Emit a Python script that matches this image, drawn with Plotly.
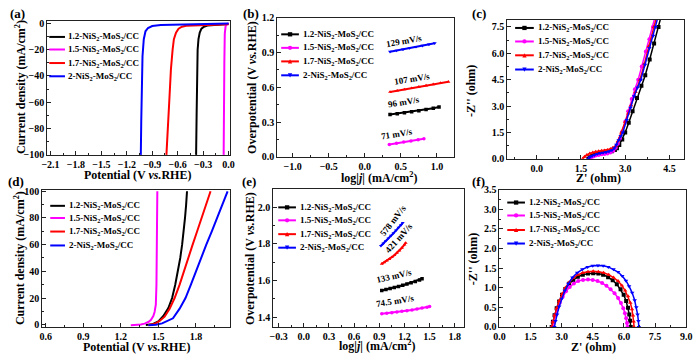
import plotly.graph_objects as go

FONT = "Liberation Serif"
W, H = 700, 361

NAMES = ["1.2-NiS<sub>2</sub>-MoS<sub>2</sub>/CC", "1.5-NiS<sub>2</sub>-MoS<sub>2</sub>/CC",
         "1.7-NiS<sub>2</sub>-MoS<sub>2</sub>/CC", "2-NiS<sub>2</sub>-MoS<sub>2</sub>/CC"]
COLORS = ["#000000", "#FF00FF", "#FF0000", "#0000FF"]
SYMBOLS = ["square", "circle", "triangle-up", "triangle-down"]

# ---------------- (a) HER LSV ----------------
a_x_12 = [0.0, -0.1, -0.2, -0.25, -0.29, -0.32, -0.34, -0.355, -0.365, -0.372, -0.377, -0.383]
a_y_12 = [-0.5, -0.8, -1.2, -1.6, -2.5, -4, -7, -12, -20, -40, -70, -100]
a_x_15 = [0.0, -0.02, -0.035, -0.045, -0.05, -0.055, -0.058]
a_y_15 = [0, -0.5, -2, -8, -30, -70, -100]
a_x_17 = [0.0, -0.2, -0.4, -0.5, -0.55, -0.59, -0.62, -0.645, -0.66, -0.68, -0.70, -0.715, -0.733]
a_y_17 = [-0.6, -0.9, -1.3, -1.8, -2.5, -4, -7, -12, -20, -35, -60, -80, -100]
a_x_2 = [0.0, -0.3, -0.6, -0.8, -0.9, -0.95, -0.98, -1.0, -1.015, -1.025, -1.03, -1.035]
a_y_2 = [0, -0.3, -0.7, -1.2, -2, -3.5, -6, -12, -25, -50, -75, -100]

# ---------------- (b) HER Tafel ----------------
b_x_12 = [0.35, 0.45, 0.55, 0.65, 0.75, 0.85, 0.95, 1.03]
b_y_12 = [0.364, 0.372, 0.380, 0.389, 0.398, 0.407, 0.418, 0.430]
b_x_15 = [0.34, 0.44, 0.54, 0.64, 0.74, 0.82]
b_y_15 = [0.107, 0.117, 0.127, 0.137, 0.147, 0.155]
b_x_17 = [0.35, 0.45, 0.55, 0.65, 0.75, 0.85, 0.95, 1.05, 1.16]
b_y_17 = [0.559, 0.570, 0.581, 0.592, 0.603, 0.614, 0.625, 0.636, 0.647]
b_x_2 = [0.35, 0.44, 0.53, 0.62, 0.71, 0.80, 0.89, 0.97]
b_y_2 = [0.906, 0.916, 0.926, 0.937, 0.948, 0.958, 0.969, 0.979]
b_rates = ["96 mV/s", "71 mV/s", "107 mV/s", "129 mV/s"]

# ---------------- (c) HER Nyquist ----------------
c_x_12 = [1.75, 1.80, 1.88, 1.96, 2.05, 2.15, 2.25, 2.35, 2.45, 2.55, 2.65, 2.72, 2.80, 2.90, 3.00, 3.12, 3.25, 3.40, 3.55, 3.68, 3.83, 3.98, 4.13, 4.25]
c_y_12 = [0.00, 0.08, 0.16, 0.22, 0.27, 0.31, 0.34, 0.36, 0.38, 0.42, 0.50, 0.60, 0.78, 1.10, 1.50, 2.05, 2.70, 3.45, 4.15, 4.75, 5.65, 6.55, 7.50, 8.30]
c_x_15 = [1.80, 1.85, 1.92, 2.00, 2.10, 2.20, 2.30, 2.40, 2.50, 2.60, 2.68, 2.75, 2.82, 2.90, 3.00, 3.10, 3.22, 3.33, 3.44, 3.56, 3.70, 3.82, 3.94, 4.05]
c_y_15 = [0.00, 0.07, 0.13, 0.18, 0.22, 0.25, 0.27, 0.30, 0.35, 0.45, 0.62, 0.85, 1.15, 1.55, 2.10, 2.70, 3.40, 3.95, 4.50, 5.25, 6.10, 6.80, 7.50, 8.30]
c_x_17 = [1.56, 1.62, 1.70, 1.80, 1.90, 2.00, 2.10, 2.20, 2.30, 2.40, 2.50, 2.58, 2.67, 2.75, 2.87, 3.00, 3.10, 3.20, 3.35, 3.50, 3.65, 3.80, 3.97, 4.10]
c_y_17 = [0.00, 0.12, 0.22, 0.30, 0.36, 0.40, 0.43, 0.45, 0.47, 0.50, 0.55, 0.62, 0.71, 1.00, 1.50, 2.10, 2.58, 3.05, 3.80, 4.50, 5.40, 6.40, 7.50, 8.30]
c_x_2 = [1.75, 1.80, 1.88, 1.96, 2.05, 2.15, 2.25, 2.35, 2.45, 2.55, 2.63, 2.70, 2.78, 2.85, 2.92, 3.05, 3.18, 3.30, 3.42, 3.53, 3.67, 3.82, 3.95, 4.03, 4.15]
c_y_2 = [0.00, 0.08, 0.16, 0.22, 0.27, 0.31, 0.34, 0.37, 0.41, 0.48, 0.60, 0.80, 1.05, 1.30, 1.50, 2.20, 2.90, 3.55, 4.05, 4.50, 5.35, 6.30, 7.00, 7.50, 8.30]

# ---------------- (d) OER LSV ----------------
d_x_12 = [1.40, 1.45, 1.50, 1.54, 1.58, 1.61, 1.635, 1.656, 1.675, 1.69, 1.703, 1.713, 1.722, 1.729]
d_y_12 = [-0.3, 0.3, 2.5, 6.5, 12.5, 20, 30, 40, 50, 60, 70, 80, 90, 100]
d_x_15 = [1.28, 1.32, 1.36, 1.39, 1.42, 1.44, 1.46, 1.47, 1.48, 1.485, 1.488, 1.49, 1.492]
d_y_15 = [-0.5, -0.3, 0.2, 0.8, 2.0, 3.5, 6.5, 9.5, 15, 30, 55, 80, 100]
d_x_17 = [1.42, 1.47, 1.51, 1.55, 1.59, 1.63, 1.67, 1.703, 1.74, 1.774, 1.81, 1.844, 1.88, 1.917]
d_y_17 = [-0.3, 0.5, 2.8, 6.0, 12, 20, 30, 40, 50, 60, 70, 80, 90, 100]
d_x_2 = [1.42, 1.48, 1.53, 1.57, 1.617, 1.67, 1.717, 1.76, 1.80, 1.84, 1.883, 1.927, 1.97, 2.012, 2.053]
d_y_2 = [-0.5, 0.0, 1.0, 2.5, 4.8, 12, 20, 30, 40, 50, 60, 70, 80, 90, 100]

# ---------------- (e) OER Tafel ----------------
e_x_12 = [0.93, 0.98, 1.03, 1.08, 1.13, 1.18, 1.23, 1.28, 1.33, 1.38, 1.41]
e_y_12 = [1.546, 1.551, 1.556, 1.562, 1.568, 1.574, 1.581, 1.588, 1.595, 1.603, 1.610]
e_x_15 = [0.93, 0.99, 1.05, 1.11, 1.17, 1.23, 1.29, 1.35, 1.41, 1.47, 1.50]
e_y_15 = [1.419, 1.422, 1.425, 1.428, 1.432, 1.436, 1.440, 1.445, 1.450, 1.455, 1.459]
e_x_17 = [0.93, 0.96, 0.99, 1.02, 1.05, 1.08, 1.11, 1.14, 1.17, 1.20, 1.215]
e_y_17 = [1.691, 1.699, 1.708, 1.717, 1.727, 1.738, 1.750, 1.763, 1.778, 1.795, 1.805]
e_x_2 = [0.92, 0.95, 0.98, 1.01, 1.04, 1.07, 1.10, 1.13, 1.16, 1.18]
e_y_2 = [1.789, 1.802, 1.816, 1.830, 1.844, 1.858, 1.873, 1.888, 1.903, 1.914]
e_rates = ["133 mV/s", "74.5 mV/s", "421 mV/s", "578 mV/s"]

# ---------------- (f) OER Nyquist ----------------
f_x_12 = [2.52, 2.58, 2.66, 2.76, 2.88, 3.02, 3.18, 3.36, 3.56, 3.78, 4.02, 4.27, 4.52, 4.77, 5.00, 5.24, 5.46, 5.66, 5.84, 5.99, 6.11, 6.20, 6.26, 6.30, 6.33]
f_y_12 = [0.00, 0.13, 0.30, 0.48, 0.65, 0.82, 0.97, 1.10, 1.20, 1.28, 1.33, 1.36, 1.37, 1.36, 1.33, 1.27, 1.19, 1.09, 0.96, 0.82, 0.66, 0.49, 0.32, 0.16, 0.00]
f_x_15 = [2.55, 2.61, 2.69, 2.79, 2.91, 3.05, 3.21, 3.39, 3.59, 3.80, 4.03, 4.27, 4.50, 4.73, 4.95, 5.16, 5.36, 5.55, 5.72, 5.86, 5.97, 6.05, 6.11, 6.15, 6.17]
f_y_15 = [0.00, 0.13, 0.29, 0.46, 0.62, 0.77, 0.91, 1.02, 1.11, 1.17, 1.20, 1.21, 1.20, 1.17, 1.12, 1.05, 0.96, 0.86, 0.74, 0.61, 0.48, 0.35, 0.22, 0.10, 0.00]
f_x_17 = [2.52, 2.58, 2.66, 2.76, 2.88, 3.02, 3.18, 3.36, 3.56, 3.78, 4.02, 4.27, 4.52, 4.77, 5.02, 5.27, 5.50, 5.72, 5.90, 6.06, 6.20, 6.31, 6.39, 6.44, 6.47, 6.49]
f_y_17 = [0.00, 0.13, 0.30, 0.48, 0.66, 0.84, 1.00, 1.14, 1.25, 1.33, 1.38, 1.41, 1.42, 1.41, 1.38, 1.33, 1.26, 1.17, 1.06, 0.93, 0.78, 0.62, 0.45, 0.29, 0.14, 0.00]
f_x_2 = [2.65, 2.70, 2.78, 2.88, 3.00, 3.15, 3.32, 3.52, 3.75, 4.00, 4.25, 4.50, 4.75, 5.00, 5.25, 5.50, 5.72, 5.92, 6.10, 6.25, 6.40, 6.52, 6.60, 6.66, 6.70, 6.72]
f_y_2 = [0.00, 0.15, 0.32, 0.52, 0.72, 0.92, 1.10, 1.26, 1.38, 1.47, 1.53, 1.56, 1.57, 1.56, 1.53, 1.47, 1.40, 1.30, 1.18, 1.04, 0.87, 0.68, 0.50, 0.32, 0.15, 0.00]

# ---------------- figure ----------------
fig = go.Figure()

def fx(px):
    return px / W

def fy(py):
    return 1 - py / H

# panel boxes in pixels: (left, right, top, bottom)
BOX = {
    1: (42, 227.5, 15, 154),
    2: (276, 456, 12, 156),
    3: (510, 690, 14, 158),
    4: (37, 228, 190, 332),
    5: (272, 466, 189, 332),
    6: (502, 692, 190, 332),
}

AX = {
    1: dict(xr=[-2.138, 0.012], xt=[-2.1, -1.8, -1.5, -1.2, -0.9, -0.6, -0.3, 0.0], xm=0.15, xf=".1f",
            yr=[-100, 2.2], yt=[0, -20, -40, -60, -80, -100], ym=10, yf="d"),
    2: dict(xr=[-1.214, 1.24], xt=[-1.0, -0.5, 0.0, 0.5, 1.0], xm=0.25, xf=".1f",
            yr=[0, 1.2], yt=[0.0, 0.3, 0.6, 0.9, 1.2], ym=0.15, yf=".1f"),
    3: dict(xr=[-1.0, 5.0], xt=[0.0, 1.5, 3.0, 4.5], xm=0.75, xf=".1f",
            yr=[0, 7.92], yt=[0.0, 1.5, 3.0, 4.5, 6.0, 7.5], ym=0.75, yf=".1f"),
    4: dict(xr=[0.574, 2.073], xt=[0.6, 0.9, 1.2, 1.5, 1.8], xm=0.15, xf=".1f",
            yr=[-1.7, 101.2], yt=[0, 20, 40, 60, 80, 100], ym=10, yf="d"),
    5: dict(xr=[-0.362, 1.91], xt=[-0.3, 0.0, 0.3, 0.6, 0.9, 1.2, 1.5, 1.8], xm=0.15, xf=".1f",
            yr=[1.347, 2.1], yt=[1.4, 1.6, 1.8, 2.0], ym=0.1, yf=".1f"),
    6: dict(xr=[0, 9.0], xt=[0.0, 1.5, 3.0, 4.5, 6.0, 7.5, 9.0], xm=0.75, xf=".1f",
            yr=[0, 3.5], yt=[0.0, 0.5, 1.0, 1.5, 2.0, 2.5, 3.0, 3.5], ym=0.25, yf=".1f"),
}

tickfont = dict(family=FONT, size=10, color="black", weight="bold")
layout_axes = {}
for i in range(1, 7):
    l, r, t, b = BOX[i]
    a = AX[i]
    sx = "" if i == 1 else str(i)
    common = dict(showline=True, linecolor="#222", linewidth=1, mirror=True,
                  ticks="inside", ticklen=4, tickwidth=1, tickcolor="#222",
                  showgrid=False, zeroline=False, tickfont=tickfont, fixedrange=True)
    layout_axes["xaxis" + sx] = dict(domain=[fx(l), fx(r)], anchor="y" + sx, range=a["xr"],
                                     tickvals=a["xt"], tickformat=a["xf"],
                                     minor=dict(dtick=a["xm"], tick0=0, ticks="inside", ticklen=2,
                                                tickcolor="#222", showgrid=False),
                                     **common)
    layout_axes["yaxis" + sx] = dict(domain=[fy(b), fy(t)], anchor="x" + sx, range=a["yr"],
                                     tickvals=a["yt"], tickformat=a["yf"],
                                     minor=dict(dtick=a["ym"], tick0=0, ticks="inside", ticklen=2,
                                                tickcolor="#222", showgrid=False),
                                     **common)

def add_set(xs, ys, axis, width, marker_size=None):
    sx = "" if axis == 1 else str(axis)
    for k in range(4):
        mode = "lines" if marker_size is None else "lines+markers"
        tr = dict(x=xs[k], y=ys[k], mode=mode, xaxis="x" + sx, yaxis="y" + sx,
                  line=dict(color=COLORS[k], width=width), showlegend=False,
                  hoverinfo="skip", cliponaxis=True)
        if marker_size is not None:
            tr["marker"] = dict(symbol=SYMBOLS[k], size=marker_size, color=COLORS[k])
        fig.add_trace(go.Scatter(**tr))

add_set([a_x_12, a_x_15, a_x_17, a_x_2], [a_y_12, a_y_15, a_y_17, a_y_2], 1, 2)
add_set([b_x_12, b_x_15, b_x_17, b_x_2], [b_y_12, b_y_15, b_y_17, b_y_2], 2, 2, 3.5)
add_set([c_x_12, c_x_15, c_x_17, c_x_2], [c_y_12, c_y_15, c_y_17, c_y_2], 3, 1.5, 4)
add_set([d_x_12, d_x_15, d_x_17, d_x_2], [d_y_12, d_y_15, d_y_17, d_y_2], 4, 2)
add_set([e_x_12, e_x_15, e_x_17, e_x_2], [e_y_12, e_y_15, e_y_17, e_y_2], 5, 2, 3.5)
add_set([f_x_12, f_x_15, f_x_17, f_x_2], [f_y_12, f_y_15, f_y_17, f_y_2], 6, 1.5, 4)

annotations = []
shapes = []

def text(px, py, s, size, angle=0, xanchor="center", yanchor="middle"):
    annotations.append(dict(x=fx(px), y=fy(py), xref="paper", yref="paper", text=s,
                            showarrow=False, textangle=angle, xanchor=xanchor, yanchor=yanchor,
                            font=dict(family=FONT, size=size, color="black", weight="bold")))

# panel letters
for lab, px, py in [("(a)", 12, 8), ("(b)", 249, 8), ("(c)", 481, 8),
                    ("(d)", 10, 182), ("(e)", 247, 182), ("(f)", 481, 182)]:
    text(px, py, lab, 13)

POT = "Potential (V <i>vs.</i>RHE)"
CUR = "Current density (mA/cm<sup>2</sup>)"
LOGJ = "log|<i>j</i>| (mA/cm<sup>2</sup>)"
OVP = "Overpotential (V <i>vs.</i>RHE)"
ZR = "Z' (ohm)"
ZI = "-Z'' (ohm)"

text(134, 175, POT, 12)
text(14, 84, CUR, 12, -90)
text(380, 177, LOGJ, 12)
text(251, 84, OVP, 12, -90)
text(603, 178, ZR, 12)
text(473, 88, ZI, 12, -90)
text(133, 352.5, POT, 12)
text(14, 261, CUR, 12, -90)
text(377, 351.5, LOGJ, 12)
text(249, 261, OVP, 12, -90)
text(598, 352.5, ZR, 12)
text(475, 262, ZI, 12, -90)

# legends (keys drawn as shapes)
def marker_shape(cx, cy, sym, color, s=2.2):
    x0, x1 = fx(cx - s), fx(cx + s)
    y0, y1 = fy(cy + s), fy(cy - s)
    if sym == "square":
        shapes.append(dict(type="rect", xref="paper", yref="paper", x0=x0, x1=x1, y0=y0, y1=y1,
                           fillcolor=color, line=dict(width=0)))
    elif sym == "circle":
        shapes.append(dict(type="circle", xref="paper", yref="paper", x0=x0, x1=x1, y0=y0, y1=y1,
                           fillcolor=color, line=dict(width=0)))
    else:
        if sym == "triangle-up":
            p = f"M {fx(cx - s)} {fy(cy + s)} L {fx(cx + s)} {fy(cy + s)} L {fx(cx)} {fy(cy - s)} Z"
        else:
            p = f"M {fx(cx - s)} {fy(cy - s)} L {fx(cx + s)} {fy(cy - s)} L {fx(cx)} {fy(cy + s)} Z"
        shapes.append(dict(type="path", xref="paper", yref="paper", path=p,
                           fillcolor=color, line=dict(width=0)))

def legend(x0, x1, ys, tx, markers):
    for k in range(4):
        py = ys[k]
        shapes.append(dict(type="line", xref="paper", yref="paper", x0=fx(x0), x1=fx(x1),
                           y0=fy(py), y1=fy(py), line=dict(color=COLORS[k], width=2)))
        if markers:
            marker_shape((x0 + x1) / 2, py, SYMBOLS[k], COLORS[k])
        text(tx, py, NAMES[k], 9, xanchor="left")

legend(44, 60, [32, 45, 59, 72.7], 61.5, False)
legend(280, 298, [29.3, 43.3, 57.3, 71.7], 300, True)
legend(518, 537, [22.7, 36.7, 51, 65.7], 539, True)
legend(45, 60, [206.7, 219.3, 233.3, 247.7], 62, False)
legend(277, 295, [208.3, 221.7, 236, 250], 297, True)
legend(510, 528, [203.3, 216.7, 231.7, 245.7], 530, True)

# slope labels (data coordinates)
def rate(axis, x, y, s, angle):
    sx = "" if axis == 1 else str(axis)
    annotations.append(dict(x=x, y=y, xref="x" + sx, yref="y" + sx, text=s, showarrow=False,
                            textangle=angle, font=dict(family=FONT, size=9, color="black", weight="bold")))

rate(2, 0.55, 1.00, b_rates[3], -10)
rate(2, 0.65, 0.675, b_rates[2], -9)
rate(2, 0.54, 0.47, b_rates[0], -9)
rate(2, 0.44, 0.195, b_rates[1], -9)
rate(5, 1.06, 1.925, e_rates[3], -52)
rate(5, 1.135, 1.83, e_rates[2], -48)
rate(5, 1.08, 1.625, e_rates[0], -13)
rate(5, 1.09, 1.487, e_rates[1], -9)

fig.update_layout(width=W, height=H, margin=dict(l=0, r=0, t=0, b=0),
                  paper_bgcolor="white", plot_bgcolor="white",
                  annotations=annotations, shapes=shapes, showlegend=False,
                  font=dict(family=FONT, color="black"), **layout_axes)

fig.write_html("out.html", config={"displayModeBar": False, "staticPlot": True},
               post_script="document.body.style.margin='0px';document.body.style.padding='0px';")
